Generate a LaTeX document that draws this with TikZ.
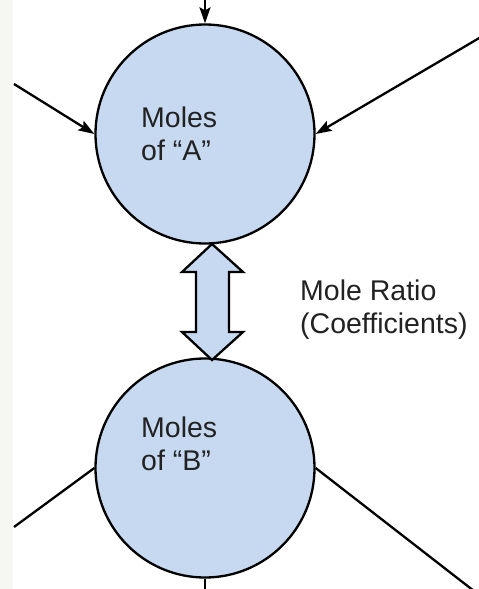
\documentclass[tikz,border=0pt]{standalone}
\usepackage{fontspec}
\setmainfont{Liberation Sans}
\usetikzlibrary{arrows.meta}
\definecolor{fillblue}{HTML}{C6D9F0}
\definecolor{txt}{HTML}{222222}
\definecolor{strip}{HTML}{F6F6F3}
\begin{document}
\begin{tikzpicture}[x=1pt,y=-1pt,
  bubble/.style={circle,draw=black,line width=2.3pt,fill=fillblue,minimum size=219pt,inner sep=0pt},
  conn/.style={line width=2.3pt,draw=black},
  arr/.style={conn,-{Stealth[length=16pt,width=11pt,inset=3pt]}},
  lbl/.style={text=txt,font=\fontsize{28.5}{32.5}\selectfont,align=left,inner sep=0pt,anchor=north west}]
\useasboundingbox (0,0) rectangle (479,589);
\fill[strip] (0,0) rectangle (13,589);
\node[bubble] (A) at (205,134) {};
\node[bubble] (B) at (205,468) {};
\node[lbl] (tA) at (141,107) {Moles\\of “A”};
\node[lbl] (tB) at (141,417) {Moles\\of “B”};
\node[lbl] (tR) at (300,280) {Mole Ratio\\(Coefficients)};
% double arrow
\coordinate (dt) at (212,244);
\coordinate (db) at (212,360);
\draw[line width=2.3pt,fill=fillblue,line join=miter]
  (dt) -- (243,272) -- (229,272) -- (229,332) -- (243,332) -- (db)
  -- (182,332) -- (196,332) -- (196,272) -- (182,272) -- cycle;
% connectors
\coordinate (inTop) at (205,-2);
\coordinate (inLeft) at (14,84);
\coordinate (inRight) at (481,37);
\coordinate (outLeft) at (14,527);
\coordinate (outRight) at (474,591);
\coordinate (outBot) at (205,591);
\draw[arr] (inTop) -- (A.north);
\draw[arr] (inLeft) -- (A.west);
\draw[arr] (inRight) -- (A.east);
\draw[conn] (B.west) -- (outLeft);
\draw[conn] (B.east) -- (outRight);
\draw[conn] (B.south) -- (outBot);
\end{tikzpicture}
\end{document}
